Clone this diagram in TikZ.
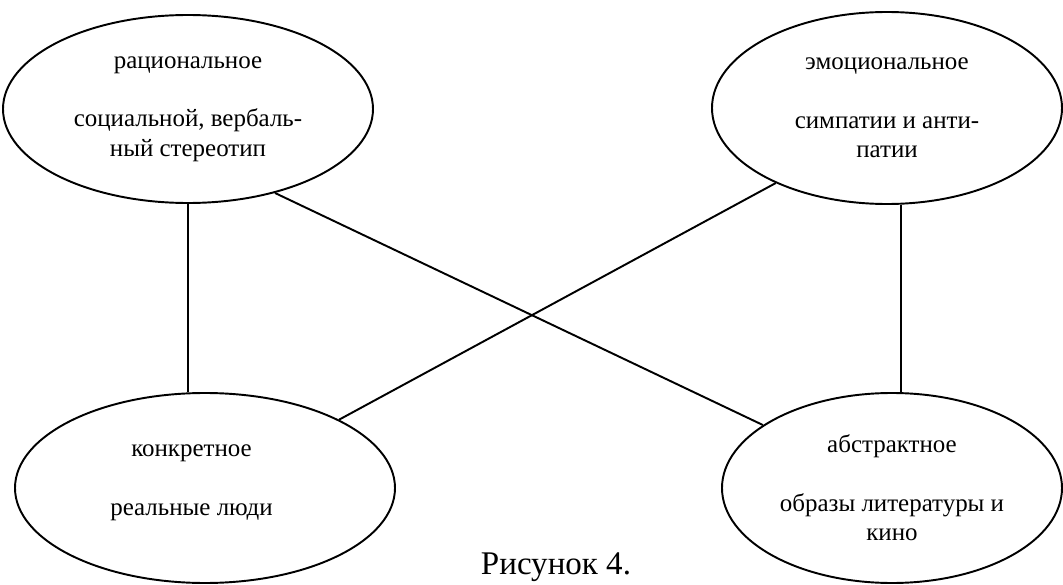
\documentclass[tikz,border=0pt]{standalone}
\usepackage{fontspec}
\setmainfont{Liberation Serif}
\usetikzlibrary{shapes.geometric}

\begin{document}
\begin{tikzpicture}[line width=1.1pt,
  oval/.style={ellipse, draw, inner sep=0pt, align=center,
    font=\fontsize{14.2pt}{16.8pt}\selectfont}]
\useasboundingbox (0,0) rectangle (21.26,11.68);
% the four kinds
\node[oval, minimum width=7.4cm, minimum height=3.76cm] (rat) at (3.76,9.5)
  {рациональное\\[16.5pt]социальной, вербаль-\\ный стереотип};
\node[oval, minimum width=7.0cm, minimum height=3.84cm] (emo) at (17.74,9.52)
  {эмоциональное\\[16.5pt]симпатии и анти-\\патии};
\node[oval, minimum width=7.6cm, minimum height=3.8cm] (konk) at (4.1,1.92) {};
\node[align=center, font=\fontsize{14.2pt}{16.8pt}\selectfont] (konktxt)
  at ([xshift=-0.27cm, yshift=0.1cm]konk.center) {конкретное\\[16.5pt]реальные люди};
\node[oval, minimum width=6.8cm, minimum height=3.8cm] (abstr) at (17.84,1.92)
  {абстрактное\\[16.5pt]образы литературы и\\кино};
% links
\draw (rat.south) -- (rat.south |- konk.north);
\draw (emo.-82) -- (emo.-82 |- abstr.north);
\draw (rat.-44) -- (abstr.154);
\draw (emo.-146) -- (konk.27);
\node[font=\fontsize{18.8pt}{22pt}\selectfont] (cap) at (11.12,0.34) {Рисунок 4.};
\end{tikzpicture}
\end{document}
